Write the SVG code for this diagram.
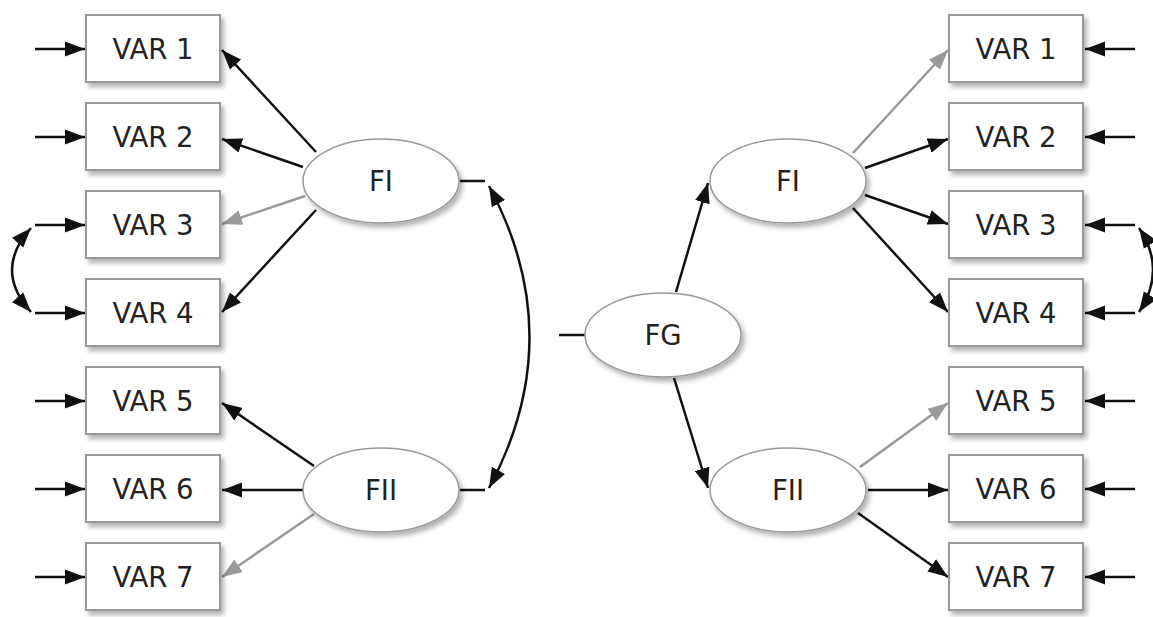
<svg xmlns="http://www.w3.org/2000/svg" width="1153" height="617" viewBox="0 0 1153 617">
<defs>
<marker id="ah" markerUnits="userSpaceOnUse" markerWidth="21" markerHeight="16" refX="20" refY="8" orient="auto-start-reverse"><path d="M0,0.5 L20,8 L0,15.5 z" fill="#111"/></marker>
<marker id="ahg" markerUnits="userSpaceOnUse" markerWidth="21" markerHeight="16" refX="20" refY="8" orient="auto-start-reverse"><path d="M0,0.5 L20,8 L0,15.5 z" fill="#999"/></marker>
<filter id="sh" x="-20%" y="-20%" width="150%" height="150%"><feDropShadow dx="3" dy="4" stdDeviation="2.5" flood-color="#000" flood-opacity="0.3"/></filter>
<style>
.box{fill:#fff;stroke:#999;stroke-width:2;filter:url(#sh)}
.ell{fill:#fff;stroke:#999;stroke-width:1.5;filter:url(#sh)}
.t{font-family:"DejaVu Sans",Verdana,sans-serif;font-size:27.5px;fill:#222;text-anchor:middle}
.c{fill:none;stroke:#111;stroke-width:2.5}
.a{marker-end:url(#ah)}
.g{fill:none;stroke:#999;stroke-width:2.5;marker-end:url(#ahg)}
.d{marker-start:url(#ah);marker-end:url(#ah)}
</style>
</defs>
<g id="connectors">
<line class="c a" x1="35" y1="49" x2="85" y2="49"/>
<line class="c a" x1="35" y1="137" x2="85" y2="137"/>
<line class="c a" x1="35" y1="225" x2="85" y2="225"/>
<line class="c a" x1="35" y1="313" x2="85" y2="313"/>
<line class="c a" x1="35" y1="401" x2="85" y2="401"/>
<line class="c a" x1="35" y1="489" x2="85" y2="489"/>
<line class="c a" x1="35" y1="577" x2="85" y2="577"/>
<line class="c a" x1="1135" y1="49" x2="1085" y2="49"/>
<line class="c a" x1="1135" y1="137" x2="1085" y2="137"/>
<line class="c a" x1="1135" y1="225" x2="1085" y2="225"/>
<line class="c a" x1="1135" y1="313" x2="1085" y2="313"/>
<line class="c a" x1="1135" y1="401" x2="1085" y2="401"/>
<line class="c a" x1="1135" y1="489" x2="1085" y2="489"/>
<line class="c a" x1="1135" y1="577" x2="1085" y2="577"/>
<path class="c d" d="M31,228 Q-7,270 31,312"/>
<path class="c d" d="M1139,228 Q1167,270 1139,312"/>
<line class="c a" x1="316" y1="152" x2="222" y2="50"/>
<line class="c a" x1="303" y1="167" x2="222" y2="139"/>
<line class="g" x1="305" y1="196" x2="222" y2="224"/>
<line class="c a" x1="316" y1="210" x2="222" y2="312"/>
<line class="c a" x1="314" y1="466" x2="222" y2="403"/>
<line class="c a" x1="303" y1="490" x2="222" y2="490"/>
<line class="g" x1="314" y1="514" x2="222" y2="577"/>
<line class="c" x1="460" y1="181" x2="485" y2="181"/>
<line class="c" x1="460" y1="490" x2="485" y2="490"/>
<path class="c d" d="M489,186 Q570,337 489,488"/>
<line class="c" x1="559" y1="335" x2="585" y2="335"/>
<line class="c a" x1="676" y1="292" x2="708" y2="183"/>
<line class="c a" x1="674" y1="378" x2="708" y2="488"/>
<line class="g" x1="853" y1="153" x2="948" y2="50"/>
<line class="c a" x1="865" y1="168" x2="948" y2="139"/>
<line class="c a" x1="865" y1="195" x2="948" y2="224"/>
<line class="c a" x1="853" y1="208" x2="948" y2="312"/>
<line class="g" x1="860" y1="467" x2="948" y2="403"/>
<line class="c a" x1="868" y1="490" x2="948" y2="490"/>
<line class="c a" x1="858" y1="513" x2="948" y2="577"/>
</g>
<g id="L1"><rect class="box" x="86" y="15" width="134" height="67"/><text class="t" x="153" y="59">VAR 1</text></g>
<g id="L2"><rect class="box" x="86" y="103" width="134" height="67"/><text class="t" x="153" y="147">VAR 2</text></g>
<g id="L3"><rect class="box" x="86" y="191" width="134" height="67"/><text class="t" x="153" y="235">VAR 3</text></g>
<g id="L4"><rect class="box" x="86" y="279" width="134" height="67"/><text class="t" x="153" y="323">VAR 4</text></g>
<g id="L5"><rect class="box" x="86" y="367" width="134" height="67"/><text class="t" x="153" y="411">VAR 5</text></g>
<g id="L6"><rect class="box" x="86" y="455" width="134" height="67"/><text class="t" x="153" y="499">VAR 6</text></g>
<g id="L7"><rect class="box" x="86" y="543" width="134" height="67"/><text class="t" x="153" y="587">VAR 7</text></g>
<g id="R1"><rect class="box" x="949" y="15" width="134" height="67"/><text class="t" x="1016" y="59">VAR 1</text></g>
<g id="R2"><rect class="box" x="949" y="103" width="134" height="67"/><text class="t" x="1016" y="147">VAR 2</text></g>
<g id="R3"><rect class="box" x="949" y="191" width="134" height="67"/><text class="t" x="1016" y="235">VAR 3</text></g>
<g id="R4"><rect class="box" x="949" y="279" width="134" height="67"/><text class="t" x="1016" y="323">VAR 4</text></g>
<g id="R5"><rect class="box" x="949" y="367" width="134" height="67"/><text class="t" x="1016" y="411">VAR 5</text></g>
<g id="R6"><rect class="box" x="949" y="455" width="134" height="67"/><text class="t" x="1016" y="499">VAR 6</text></g>
<g id="R7"><rect class="box" x="949" y="543" width="134" height="67"/><text class="t" x="1016" y="587">VAR 7</text></g>
<g id="LFI"><ellipse class="ell" cx="381" cy="181" rx="78" ry="42"/><text class="t" x="381" y="191">FI</text></g>
<g id="LFII"><ellipse class="ell" cx="381" cy="490" rx="78" ry="42"/><text class="t" x="381" y="500">FII</text></g>
<g id="FG"><ellipse class="ell" cx="663" cy="335" rx="78" ry="42"/><text class="t" x="663" y="345">FG</text></g>
<g id="RFI"><ellipse class="ell" cx="788" cy="181" rx="78" ry="42"/><text class="t" x="788" y="191">FI</text></g>
<g id="RFII"><ellipse class="ell" cx="788" cy="490" rx="78" ry="42"/><text class="t" x="788" y="500">FII</text></g>
</svg>
